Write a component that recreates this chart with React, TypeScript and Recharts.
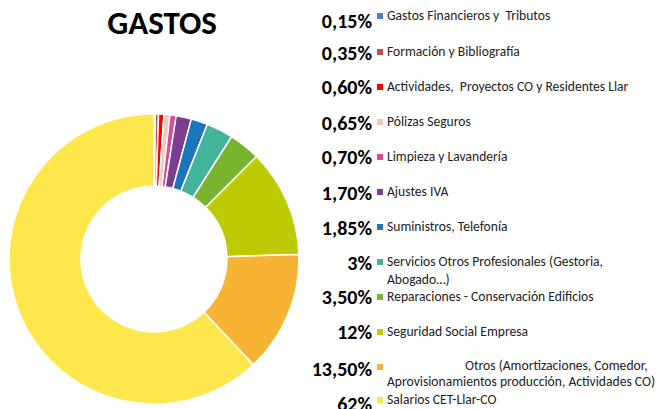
import React from "react";
import { PieChart, Pie, Cell, Legend } from "recharts";

const categories: string[] = [
  "Gastos Financieros y  Tributos",
  "Formación y Bibliografía",
  "Actividades,  Proyectos CO y Residentes Llar",
  "Pólizas Seguros",
  "Limpieza y Lavandería",
  "Ajustes IVA",
  "Suministros, Telefonía",
  "Servicios Otros Profesionales (Gestoria,\nAbogado…)",
  "Reparaciones - Conservación Edificios",
  "Seguridad Social Empresa",
  "Otros (Amortizaciones, Comedor,\nAprovisionamientos producción, Actividades CO)",
  "Salarios CET-Llar-CO",
];

const values: number[] = [0.15, 0.35, 0.6, 0.65, 0.7, 1.7, 1.85, 3, 3.5, 12, 13.5, 62];

const percentLabels: string[] = [
  "0,15%", "0,35%", "0,60%", "0,65%", "0,70%", "1,70%",
  "1,85%", "3%", "3,50%", "12%", "13,50%", "62%",
];

const colors: string[] = [
  "#4F81BD", "#C0504D", "#FF0000", "#F7C6BA", "#DD4A94", "#7A3D8F",
  "#1A75BB", "#41B49A", "#7AB32E", "#BCCB04", "#F7B334", "#FDE74C",
];

const title = "GASTOS";

const data = categories.map((name, i) => ({ name, value: values[i] }));

const FONT = "Carlito, Calibri, Lato, sans-serif";

// layout of legend rows (centre y of each row)
const rowY = [16, 52, 87, 122, 157, 192, 227, 262, 297, 332, 367, 400];
const pctDy = [5, 1, 0, 1, 0, 1, 1, 1, 0, 0, 2, 4];

const renderLegend = () => (
  <div style={{ position: "relative", width: 659, height: 409 }}>
    {categories.map((name, i) => {
      const lines = name.split("\n");
      const isOtros = i === 10;
      return (
        <React.Fragment key={i}>
          <div
            style={{
              position: "absolute",
              right: 659 - 372,
              top: rowY[i] + pctDy[i] - 12,
              height: 24,
              lineHeight: "24px",
              fontFamily: FONT,
              fontWeight: 700,
              fontSize: 20,
              color: "#000",
              whiteSpace: "nowrap",
            }}
          >
            {percentLabels[i]}
          </div>
          <div
            style={{
              position: "absolute",
              left: 377,
              top: rowY[i] - 3,
              width: 6,
              height: 6,
              background: colors[i],
            }}
          />
          <div
            style={{
              position: "absolute",
              left: 387,
              top: rowY[i] - 9,
              fontFamily: FONT,
              fontSize: 13.6,
              lineHeight: isOtros ? "16px" : "18px",
              color: "#222",
              whiteSpace: "pre",
            }}
          >
            {lines.map((l, k) => (
              <div key={k} style={{ paddingLeft: isOtros && k === 0 ? 78 : 0 }}>
                {l}
              </div>
            ))}
          </div>
        </React.Fragment>
      );
    })}
  </div>
);

export default function App() {
  return (
    <div style={{ position: "absolute", left: 0, top: 0, width: 659, height: 409, background: "#fff", overflow: "hidden" }}>
      <div
        style={{
          position: "absolute",
          left: 62,
          width: 200,
          top: 3,
          textAlign: "center",
          fontFamily: FONT,
          fontWeight: 700,
          fontSize: 33,
          lineHeight: "40px",
          color: "#000",
        }}
      >
        {title}
      </div>
      <PieChart width={659} height={409} margin={{ top: 0, right: 0, bottom: 0, left: 0 }}>
        <Pie
          data={data}
          dataKey="value"
          nameKey="name"
          cx={154}
          cy={259}
          outerRadius={145}
          innerRadius={73}
          startAngle={90}
          endAngle={-270}
          stroke="#ffffff"
          strokeWidth={1.5}
          isAnimationActive={false}
        >
          {data.map((d, i) => (
            <Cell key={i} fill={colors[i]} />
          ))}
        </Pie>
        <Legend
          content={renderLegend}
          wrapperStyle={{ left: 0, top: 0, width: 659, height: 409, margin: 0 }}
        />
      </PieChart>
    </div>
  );
}
